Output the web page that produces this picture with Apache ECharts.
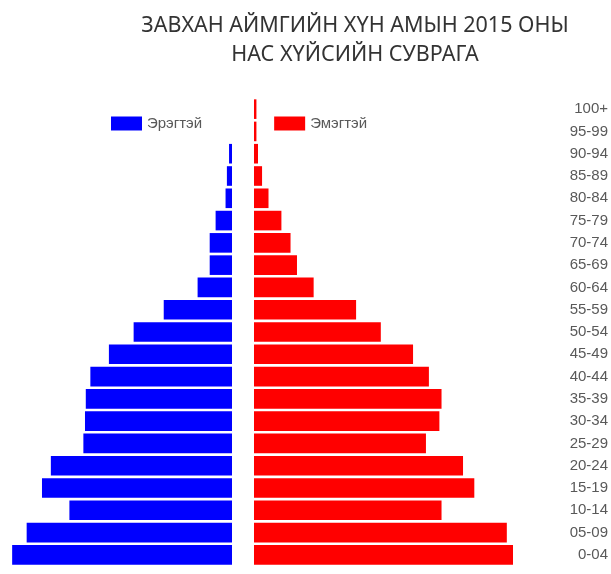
<!DOCTYPE html>
<html>
<head>
<meta charset="utf-8">
<script src="https://cdn.jsdelivr.net/npm/echarts@6/dist/echarts.min.js"></script>
<style>
  html, body { margin: 0; padding: 0; background: #fff; }
  #main { width: 611px; height: 574px; }
</style>
</head>
<body>
<div id="main"></div>
<script>
// нас бүлэг (доороос дээш)
var ageGroups = ['0-04','05-09','10-14','15-19','20-24','25-29','30-34','35-39','40-44','45-49',
                 '50-54','55-59','60-64','65-69','70-74','75-79','80-84','85-89','90-94','95-99','100+'];
// эрэгтэй
var male = [4090, 3820, 3025, 3535, 3370, 2765, 2735, 2720, 2635, 2290,
            1830, 1270, 640, 415, 415, 305, 120, 95, 55, 0, 0];
// эмэгтэй
var female = [4830, 4705, 3490, 4100, 3890, 3200, 3450, 3490, 3255, 2960,
              2360, 1900, 1110, 800, 680, 510, 270, 150, 75, 45, 45];

var myChart = echarts.init(document.getElementById('main'));

myChart.setOption({
  animation: false,
  title: {
    text: 'ЗАВХАН АЙМГИЙН ХҮН АМЫН 2015 ОНЫ\nНАС ХҮЙСИЙН СУВРАГА',
    left: 350,
    top: 6,
    textAlign: 'center',
    textStyle: {
      fontFamily: 'Noto Sans',
      fontSize: 21.5,
      fontWeight: 'normal',
      color: '#333',
      lineHeight: 29,
      align: 'center'
    }
  },
  legend: {
    data: ['Эрэгтэй', 'Эмэгтэй'],
    left: 106,
    top: 111,
    itemWidth: 31,
    itemHeight: 14,
    itemGap: 72,
    icon: 'rect',
    textStyle: { fontFamily: 'Liberation Sans', fontSize: 15, color: '#595959' }
  },
  grid: [
    { left: 10, right: 379, top: 98, height: 468 },
    { left: 254, right: 96, top: 98, height: 468 }
  ],
  xAxis: [
    { gridIndex: 0, type: 'value', min: 0, max: 4130, inverse: true, show: false },
    { gridIndex: 1, type: 'value', min: 0, max: 4820, show: false }
  ],
  yAxis: [
    { gridIndex: 0, type: 'category', data: ageGroups, show: false },
    {
      gridIndex: 1, type: 'category', data: ageGroups, position: 'right',
      axisLine: { show: false }, axisTick: { show: false },
      axisLabel: {
        align: 'right', margin: 95,
        fontFamily: 'Liberation Sans', fontSize: 15, color: '#595959'
      }
    }
  ],
  series: [
    {
      name: 'Эрэгтэй', type: 'bar', xAxisIndex: 0, yAxisIndex: 0,
      data: male, barCategoryGap: '12%',
      itemStyle: { color: '#0000ff' }
    },
    {
      name: 'Эмэгтэй', type: 'bar', xAxisIndex: 1, yAxisIndex: 1,
      data: female, barCategoryGap: '12%',
      itemStyle: { color: '#ff0000' }
    }
  ]
});
</script>
</body>
</html>
